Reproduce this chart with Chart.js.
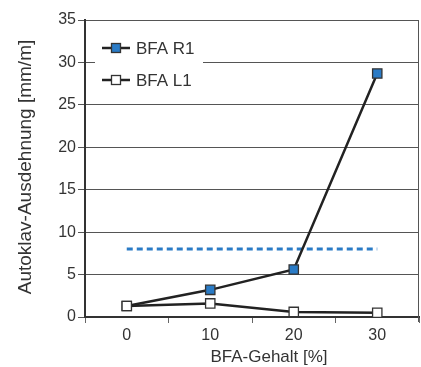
<!DOCTYPE html>
<html>
<head>
<meta charset="utf-8">
<script src="https://cdn.jsdelivr.net/npm/chart.js@4"></script>
<style>
html,body{margin:0;padding:0;background:#fff;}
canvas{display:block;}
</style>
</head>
<body>
<canvas id="c" width="421" height="367"></canvas>
<script>
const categories = ['0', '10', '20', '30'];
const r1Values = [1.3, 3.2, 5.6, 28.7];
const l1Values = [1.3, 1.6, 0.6, 0.5];
const limitValues = [8, 8, 8, 8];
const yTicks = [0, 5, 10, 15, 20, 25, 30, 35];
const seriesNames = ['BFA R1', 'BFA L1'];
const xTitle = 'BFA-Gehalt [%]';
const yTitle = 'Autoklav-Ausdehnung [mm/m]';

const FONT = "'Liberation Sans', Arial, Helvetica, sans-serif";
const TEXT = '#333';
const BLUE = '#2a7bc6';

const decorPlugin = {
  id: 'decor',
  beforeDatasetsDraw(chart) {
    const {ctx, chartArea: a} = chart;
    ctx.save();
    ctx.strokeStyle = '#555';
    ctx.lineWidth = 1;
    ctx.beginPath();
    ctx.moveTo(Math.round(a.right) - 0.5, a.top);
    ctx.lineTo(Math.round(a.right) - 0.5, a.bottom + 5);
    ctx.stroke();
    ctx.restore();
  },
  afterDraw(chart) {
    const {ctx, chartArea: a} = chart;
    ctx.save();
    // axis titles
    ctx.fillStyle = TEXT;
    ctx.font = '17px ' + FONT;
    ctx.textAlign = 'center';
    ctx.textBaseline = 'middle';
    ctx.fillText(xTitle, (a.left + a.right) / 2 + 17, 357);
    ctx.save();
    ctx.translate(26, (a.top + a.bottom) / 2 - 1.5);
    ctx.rotate(-Math.PI / 2);
    ctx.font = '19px ' + FONT;
    ctx.fillText(yTitle, 0, 0);
    ctx.restore();
    // legend
    ctx.fillStyle = '#fff';
    ctx.fillRect(95, 28, 108, 68);
    const items = [
      {name: seriesNames[0], fill: BLUE, y: 48},
      {name: seriesNames[1], fill: '#fff', y: 80}
    ];
    items.forEach(it => {
      ctx.strokeStyle = '#222';
      ctx.lineWidth = 2.5;
      ctx.beginPath();
      ctx.moveTo(102, it.y);
      ctx.lineTo(130, it.y);
      ctx.stroke();
      ctx.fillStyle = it.fill;
      ctx.fillRect(111.5, it.y - 4.5, 9, 9);
      ctx.strokeStyle = '#333';
      ctx.lineWidth = 1.3;
      ctx.strokeRect(111.5, it.y - 4.5, 9, 9);
      ctx.fillStyle = TEXT;
      ctx.font = '17px ' + FONT;
      ctx.textAlign = 'left';
      ctx.textBaseline = 'middle';
      ctx.fillText(it.name, 136, it.y + 1);
    });
    ctx.restore();
  }
};

new Chart(document.getElementById('c'), {
  type: 'line',
  data: {
    labels: categories,
    datasets: [
      {
        label: seriesNames[1],
        data: l1Values,
        borderColor: '#222',
        borderWidth: 2.5,
        backgroundColor: '#fff',
        pointStyle: 'rect',
        pointRadius: 6.6,
        pointBorderWidth: 1.3,
        pointBorderColor: '#333',
        pointBackgroundColor: '#fff',
        tension: 0
      },
      {
        label: seriesNames[0],
        data: r1Values,
        borderColor: '#222',
        borderWidth: 2.5,
        backgroundColor: BLUE,
        pointStyle: 'rect',
        pointRadius: 6.6,
        pointBorderWidth: 1.3,
        pointBorderColor: '#333',
        pointBackgroundColor: BLUE,
        tension: 0
      },
      {
        label: 'limit',
        data: limitValues,
        borderColor: BLUE,
        borderWidth: 3,
        borderDash: [6, 4],
        pointRadius: 0,
        tension: 0
      }
    ]
  },
  options: {
    responsive: false,
    animation: false,
    layout: {autoPadding: false, padding: {top: 20, right: 2, left: 0, bottom: 0}},
    plugins: {legend: {display: false}, tooltip: {enabled: false}},
    scales: {
      x: {
        type: 'category',
        offset: true,
        grid: {
          offset: true,
          drawOnChartArea: false,
          drawTicks: true,
          tickLength: 6,
          color: '#666',
          lineWidth: 1
        },
        border: {display: true, color: '#333', width: 2},
        ticks: {
          color: TEXT,
          font: {family: FONT, size: 16},
          padding: 3,
          maxRotation: 0
        },
        afterFit(scale) {
          scale.height = 50;
          scale.paddingLeft = 0;
          scale.paddingRight = 0;
        }
      },
      y: {
        min: 0,
        max: 35,
        afterBuildTicks(scale) { scale.ticks = yTicks.map(v => ({value: v})); },
        grid: {
          color: '#555',
          lineWidth: 1,
          tickLength: 7,
          drawTicks: true
        },
        border: {display: true, color: '#333', width: 2},
        ticks: {
          color: TEXT,
          font: {family: FONT, size: 16},
          padding: 2
        },
        afterFit(scale) {
          scale.width = 85;
          scale.paddingTop = 0;
          scale.paddingBottom = 0;
        }
      }
    }
  },
  plugins: [decorPlugin]
});
</script>
</body>
</html>
